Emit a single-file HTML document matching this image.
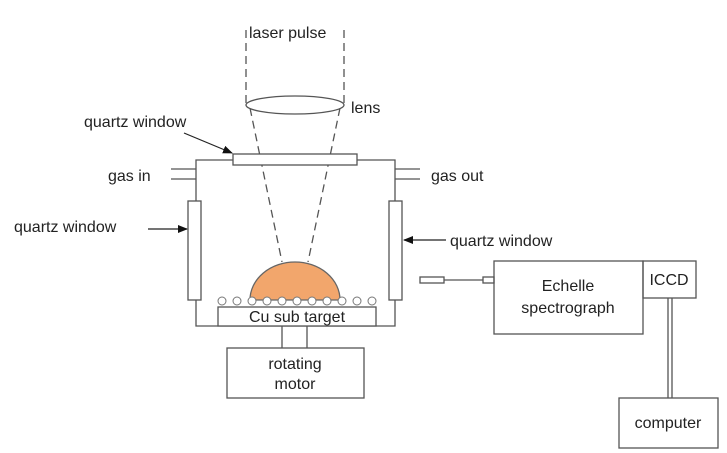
<!DOCTYPE html>
<html><head><style>body{margin:0;background:#fff}svg{display:block}text{font-family:"Liberation Sans",sans-serif;fill:#222;font-size:16px}</style></head><body>
<svg width="727" height="453" viewBox="0 0 727 453">
<defs><marker id="a" markerWidth="10" markerHeight="8" refX="9" refY="4" orient="auto" markerUnits="userSpaceOnUse"><path d="M0,0L10,4L0,8z" fill="#111"/></marker></defs>
<g stroke="#555" fill="none" stroke-width="1.3">
<path d="M246,30V105M344,30V105M250,108L282,262M340,108L308,262" stroke-dasharray="8,5"/>
<ellipse cx="295" cy="105" rx="49" ry="9" fill="#fff"/>
<path d="M233,160H196V326H395V160H357"/>
<rect x="233" y="154" width="124" height="11" fill="#fff"/>
<path d="M171,169H196M171,179H196M395,169H420M395,179H420"/>
<rect x="188" y="201" width="13" height="99" fill="#fff"/>
<rect x="389" y="201" width="13" height="99" fill="#fff"/>
<path d="M250,300A45,38 0 0 1 340,300Z" fill="#f2a66c" stroke="#666"/>
<rect x="218" y="307" width="158" height="19" fill="#fff"/>
<path d="M282,326V348M307,326V348"/>
<rect x="227" y="348" width="137" height="50" fill="#fff"/>
<rect x="420" y="277" width="24" height="6"/>
<path d="M444,280H483"/>
<rect x="483" y="277" width="11" height="6"/>
<rect x="494" y="261" width="149" height="73"/>
<rect x="643" y="261" width="53" height="37"/>
<path d="M668,298V398M672,298V398"/>
<rect x="619" y="398" width="99" height="50"/>
</g>
<g fill="#fff" stroke="#777" stroke-width="1">
<circle cx="222" cy="301" r="4"/><circle cx="237" cy="301" r="4"/><circle cx="252" cy="301" r="4"/><circle cx="267" cy="301" r="4"/><circle cx="282" cy="301" r="4"/><circle cx="297" cy="301" r="4"/><circle cx="312" cy="301" r="4"/><circle cx="327" cy="301" r="4"/><circle cx="342" cy="301" r="4"/><circle cx="357" cy="301" r="4"/><circle cx="372" cy="301" r="4"/>
</g>
<g stroke="#222" stroke-width="1.2">
<path d="M184,133L232,153" marker-end="url(#a)"/>
<path d="M148,229L187,229" marker-end="url(#a)"/>
<path d="M446,240L404,240" marker-end="url(#a)"/>
</g>
<text x="249" y="38">laser pulse</text>
<text x="351" y="113">lens</text>
<text x="84" y="127">quartz window</text>
<text x="108" y="181">gas in</text>
<text x="431" y="181">gas out</text>
<text x="14" y="232">quartz window</text>
<text x="450" y="246">quartz window</text>
<text x="297" y="322" text-anchor="middle">Cu sub target</text>
<text x="295" y="369" text-anchor="middle">rotating</text>
<text x="295" y="389" text-anchor="middle">motor</text>
<text x="568" y="291" text-anchor="middle">Echelle</text>
<text x="568" y="313" text-anchor="middle">spectrograph</text>
<text x="669" y="285" text-anchor="middle">ICCD</text>
<text x="668" y="428" text-anchor="middle">computer</text>
</svg>
</body></html>
